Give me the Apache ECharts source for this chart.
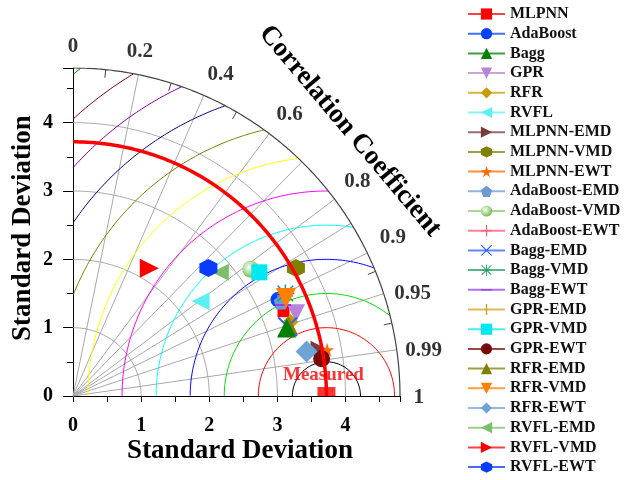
<!DOCTYPE html>
<html>
<head>
<meta charset="utf-8">
<script src="https://cdn.jsdelivr.net/npm/echarts@6/dist/echarts.min.js"></script>
<style>
  html, body { margin: 0; padding: 0; background: #fff; }
  #chart { width: 625px; height: 480px; }
</style>
</head>
<body>
<div id="chart"></div>
<script>
// model names, standard deviation and correlation
const modelNames = ['MLPNN', 'AdaBoost', 'Bagg', 'GPR', 'RFR', 'RVFL',
  'MLPNN-EMD', 'MLPNN-VMD', 'MLPNN-EWT', 'AdaBoost-EMD', 'AdaBoost-VMD', 'AdaBoost-EWT',
  'Bagg-EMD', 'Bagg-VMD', 'Bagg-EWT', 'GPR-EMD', 'GPR-VMD', 'GPR-EWT',
  'RFR-EMD', 'RFR-VMD', 'RFR-EWT', 'RVFL-EMD', 'RVFL-VMD', 'RVFL-EWT']
const modelStd = [3.33, 3.33, 3.29, 3.49, 3.37, 2.33,
  3.67, 3.77, 3.79, 3.35, 3.20, 3.44,
  3.31, 3.46, 3.36, 3.32, 3.28, 3.69,
  3.33, 3.44, 3.49, 2.82, 2.18, 2.73]
const modelCorr = [0.928, 0.906, 0.953, 0.938, 0.947, 0.804,
  0.982, 0.868, 0.984, 0.912, 0.815, 0.905,
  0.952, 0.901, 0.918, 0.951, 0.834, 0.989,
  0.950, 0.909, 0.9825, 0.767, 0.514, 0.728]
const refStd = 3.72
const maxStd = 4.8
const stdArcs = [1, 2, 3, 4]
const rmsRadii = [0.5, 1, 1.5, 2, 2.5, 3, 3.5, 4, 4.5, 5, 5.5, 6]
const corrGrid = [0.2, 0.4, 0.6, 0.7, 0.8, 0.85, 0.9, 0.95, 0.99]
const corrTicks = [0.1, 0.3, 0.5, 0.925, 0.975]
const corrLabels = [0, 0.2, 0.4, 0.6, 0.8, 0.9, 0.95, 0.99, 1]

// styles
const corrLabelShift = [[0, 0], [-4, 4], [6, 4], [4, 3], [1, -1], [1, -4], [3, 9], [0, 5], [-3, 2]]
const rmsColors = ['#000000', '#ff0000', '#00e000', '#0000ff', '#00ffff', '#ff00ff',
  '#ffff00', '#808000', '#000080', '#8000a0', '#800000', '#008000']
// the tiny corner slivers keep the bounding box square for thin shapes
const box = ' M0,0 L0.01,0 Z M100,100 L99.99,100 Z'
const P = {
  hex: 'path://M50,0 L93.3,25 L93.3,75 L50,100 L6.7,75 L6.7,25 Z',
  star: 'path://M50,0 L61.8,35.3 L98.9,35.3 L68.9,57.1 L80.3,92.4 L50,70.6 L19.7,92.4 L31.1,57.1 L1.1,35.3 L38.2,35.3 Z',
  penta: 'path://M50,0 L97.6,34.5 L79.4,90.5 L20.6,90.5 L2.4,34.5 Z',
  plus: 'path://M45,0 H55 V45 H100 V55 H55 V100 H45 V55 H0 V45 H45 Z',
  cross: 'path://M7,0 L50,43 L93,0 L100,7 L57,50 L100,93 L93,100 L50,57 L7,100 L0,93 L43,50 L0,7 Z',
  aster: 'path://M46,0 H54 V46 H100 V54 H54 V100 H46 V54 H0 V46 H46 Z M10,4 L50,44 L90,4 L96,10 L56,50 L96,90 L90,96 L50,56 L10,96 L4,90 L44,50 L4,10 Z',
  dash: 'path://M0,44 H100 V56 H0 Z' + box,
  bar: 'path://M44,0 H56 V100 H44 Z' + box,
  down: 'path://M0,0 L100,0 L50,87 Z',
  left: 'path://M0,50 L87,0 L87,100 Z',
  right: 'path://M0,0 L87,50 L0,100 Z'
}
const ball = {
  type: 'radial', x: 0.4, y: 0.38, r: 0.65,
  colorStops: [{ offset: 0, color: '#ffffff' }, { offset: 0.35, color: '#c8e8b8' }, { offset: 1, color: '#6cb84c' }]
}
const modelStyle = [
  ['rect', '#ff0000', 12], ['circle', '#0040ff', 16], ['triangle', '#008000', 19],
  [P.down, '#b784d9', 18], ['diamond', '#c89b00', 16], [P.left, '#5ef0f0', 18],
  [P.right, '#7a3b3b', 16], [P.hex, '#808000', 18], [P.star, '#ff6a00', 14],
  [P.penta, '#6b9bd1', 15], ['circle', '#8cc870', 17], [P.plus, '#ff5a6e', 16],
  [P.cross, '#3060ff', 20], [P.aster, '#20a060', 18], [P.dash, '#9040ee', 16],
  [P.bar, '#d4a020', 16], ['rect', '#00e8f0', 16], ['circle', '#7a0a0a', 17],
  ['triangle', '#808000', 18], [P.down, '#ff7f00', 20], ['diamond', '#6fa3d6', 22],
  [P.left, '#7cbf6a', 17], [P.right, '#ff0000', 19], [P.hex, '#0a3cff', 18]
]
const serif = 'Liberation Serif'

function polar(r, c) {
  return [r * c, r * Math.sqrt(Math.max(0, 1 - c * c))]
}
function arc(cx, r) {
  const pts = []
  for (let i = 0; i <= 1440; i++) {
    const a = Math.PI * i / 1440
    const x = cx + r * Math.cos(a)
    const y = r * Math.sin(a)
    if (x >= 0 && x * x + y * y <= maxStd * maxStd + 1e-9) pts.push([x, y])
  }
  return pts
}
function lineSeries(data, color, width, z) {
  return {
    type: 'line', data: data, symbol: 'none', silent: true, z: z,
    lineStyle: { color: color, width: width }
  }
}

const series = []
stdArcs.forEach(r => series.push(lineSeries(arc(0, r), '#a8a8a8', 1, 1)))
corrGrid.forEach(c => series.push(lineSeries([[0, 0], polar(maxStd, c)], '#a8a8a8', 1, 1)))
corrTicks.forEach(c => series.push(lineSeries([polar(maxStd - 0.12, c), polar(maxStd, c)], '#444', 1, 1)))
rmsRadii.forEach((r, i) => series.push(lineSeries(arc(refStd, r), rmsColors[i], 1, 2)))
series.push(lineSeries(arc(0, maxStd), '#444', 1.2, 2))
series.push(lineSeries(arc(0, refStd), '#ff0000', 3.5, 6))

modelNames.forEach((name, i) => {
  const st = modelStyle[i]
  series.push({
    name: name, type: 'line', z: name === 'Bagg' ? 5 : 4,
    data: [polar(modelStd[i], modelCorr[i])],
    symbol: st[0], symbolSize: st[2], showSymbol: true,
    itemStyle: { color: name === 'AdaBoost-VMD' ? ball : st[1] },
    lineStyle: { color: st[1], width: 1.5, opacity: 0.75 }
  })
})

// measured (reference) point
series.push({
  type: 'scatter', z: 7, clip: false, silent: true,
  data: [[refStd, 0]],
  symbol: 'rect', symbolSize: [18, 9], symbolOffset: [0, -4.5],
  itemStyle: { color: '#ff0000' },
  label: {
    show: true, formatter: 'Measured', position: 'top', distance: 2, offset: [-3, 0],
    color: '#ff0000', fontFamily: serif, fontWeight: 'bold', fontSize: 19
  }
})

// correlation labels round the outer arc
series.push({
  type: 'scatter', clip: false, silent: true, symbolSize: 1,
  itemStyle: { color: 'transparent' },
  data: corrLabels.map((c, i) => {
    const r = (c === 0 || c === 1) ? 5.12 : 5.2
    return { value: polar(r, c), name: String(c), label: { offset: corrLabelShift[i] } }
  }),
  label: {
    show: true, position: 'inside', formatter: p => p.name,
    color: '#000', fontFamily: serif, fontWeight: 'bold', fontSize: 21
  }
})

const axisCommon = {
  type: 'value', min: 0, max: maxStd, interval: 1,
  splitLine: { show: false },
  axisLine: { lineStyle: { color: '#000', width: 1 } },
  axisLabel: { color: '#000', fontFamily: serif, fontWeight: 'bold', fontSize: 20, margin: 20, showMaxLabel: false }
}

const chart = echarts.init(document.getElementById('chart'))
chart.setOption({
  animation: false,
  backgroundColor: '#fff',
  grid: { left: 73, top: 68, width: 327, height: 328 },
  xAxis: Object.assign({}, axisCommon, {
    axisTick: { length: 6, lineStyle: { color: '#000' } },
    minorTick: { show: true, splitNumber: 2, length: 6, lineStyle: { color: '#000' } }
  }),
  yAxis: Object.assign({}, axisCommon, {
    axisTick: { length: 10, lineStyle: { color: '#000' } },
    minorTick: { show: true, splitNumber: 2, length: 6, lineStyle: { color: '#000' } }
  }),
  legend: {
    data: modelNames, orient: 'vertical', left: 462, top: 0, height: 479, padding: [6, 5, 0, 5],
    itemWidth: 37, itemHeight: 14, itemGap: 3.7, selectedMode: false,
    textStyle: { color: '#111', fontFamily: serif, fontWeight: 'bold', fontSize: 16 }
  },
  graphic: [
    {
      type: 'text', style: {
        text: 'Standard Deviation', x: 240, y: 451, align: 'center', verticalAlign: 'middle',
        fill: '#000', font: 'bold 27px "Liberation Serif"'
      }
    },
    {
      type: 'text', x: 23, y: 228, rotation: Math.PI / 2, style: {
        text: 'Standard Deviation', x: 0, y: 0, align: 'center', verticalAlign: 'middle',
        fill: '#000', font: 'bold 27px "Liberation Serif"'
      }
    },
    {
      type: 'text', x: 350, y: 131, rotation: -0.87, style: {
        text: 'Correlation Coefficient', x: 0, y: 0, align: 'center', verticalAlign: 'middle',
        fill: '#000', font: 'bold 27px "Liberation Serif"'
      }
    }
  ],
  series: series
})
</script>
</body>
</html>
